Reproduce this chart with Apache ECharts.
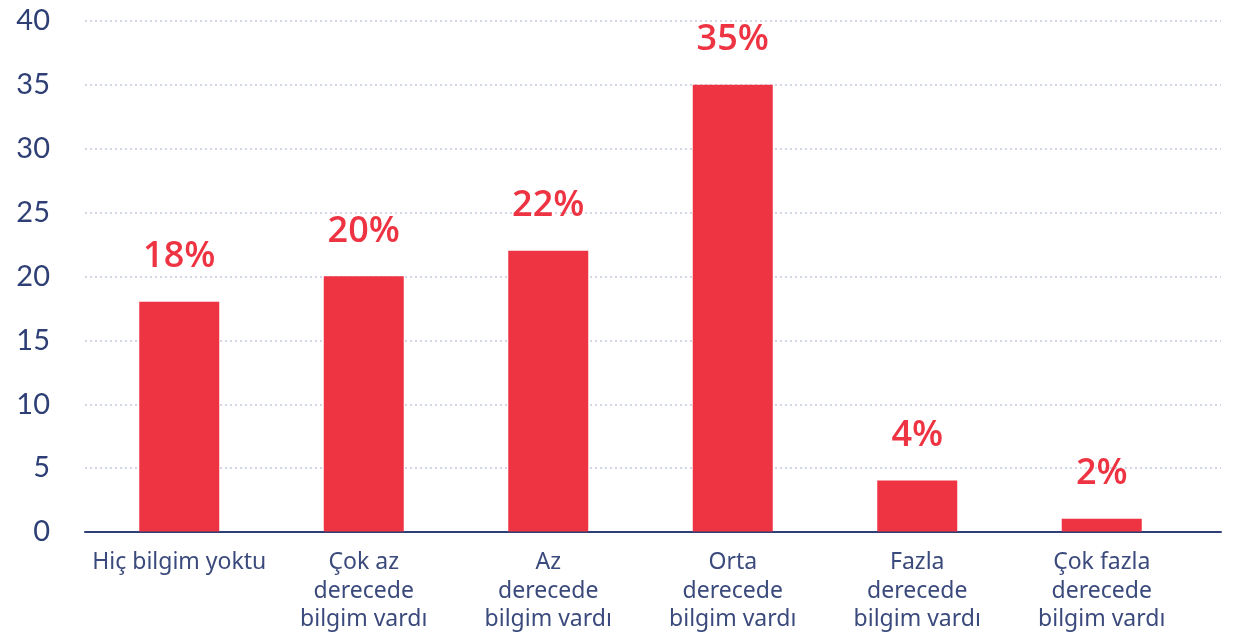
<!DOCTYPE html>
<html><head><meta charset="utf-8">
<script src="https://cdn.jsdelivr.net/npm/echarts@6/dist/echarts.min.js"></script>
<style>html,body{margin:0;padding:0;background:#fff}#c{width:1236px;height:634px}</style>
</head><body><div id="c"></div>
<script>
const categories = ['Hiç bilgim yoktu', 'Çok az\nderecede\nbilgim vardı', 'Az\nderecede\nbilgim vardı', 'Orta\nderecede\nbilgim vardı', 'Fazla\nderecede\nbilgim vardı', 'Çok fazla\nderecede\nbilgim vardı'];
const values = [18, 20, 22, 35, 4, 1];
const valueLabels = ['18%', '20%', '22%', '35%', '4%', '2%'];
const yTicks = [0, 5, 10, 15, 20, 25, 30, 35, 40];

const yMin = yTicks[0], yMax = yTicks[yTicks.length - 1];
const chart = echarts.init(document.getElementById('c'), null, {renderer: 'canvas'});
chart.setOption({
  animation: false,
  grid: [
    {left: 85, right: 15, top: 21, bottom: 102},
    {left: 87, right: 42, top: 21, bottom: 102}
  ],
  xAxis: [{
    gridIndex: 0, type: 'value', min: 0, max: 1,
    axisLine: {show: true, onZero: false, lineStyle: {color: '#2e3f75', width: 2}},
    axisTick: {show: false}, axisLabel: {show: false}, splitLine: {show: false}
  }, {
    gridIndex: 1, type: 'category', data: categories,
    axisLine: {show: false},
    axisTick: {show: false},
    axisLabel: {color: '#3b4a7c', fontSize: 23, lineHeight: 28.5, margin: 17, fontFamily: 'Noto Sans', interval: 0}
  }],
  yAxis: [{
    gridIndex: 0, type: 'value', min: yMin, max: yMax, interval: 5,
    axisLine: {show: false}, axisTick: {show: false},
    axisLabel: {color: '#2e3f75', fontSize: 29, margin: 35, fontFamily: 'Lato'},
    splitLine: {lineStyle: {color: '#c3cade', type: [2, 3], width: 1.5}}
  }, {
    gridIndex: 1, type: 'value', min: yMin, max: yMax, interval: 5,
    axisLine: {show: false}, axisTick: {show: false}, axisLabel: {show: false}, splitLine: {show: false}
  }],
  series: [{
    type: 'bar', xAxisIndex: 1, yAxisIndex: 1, data: values, barWidth: 80,
    itemStyle: {color: '#ee3342'},
    label: {
      show: true, position: 'top', distance: 27,
      formatter: p => valueLabels[p.dataIndex],
      color: '#ee3342', fontSize: 36, fontWeight: 600, fontFamily: 'Open Sans'
    }
  }]
});
</script></body></html>
